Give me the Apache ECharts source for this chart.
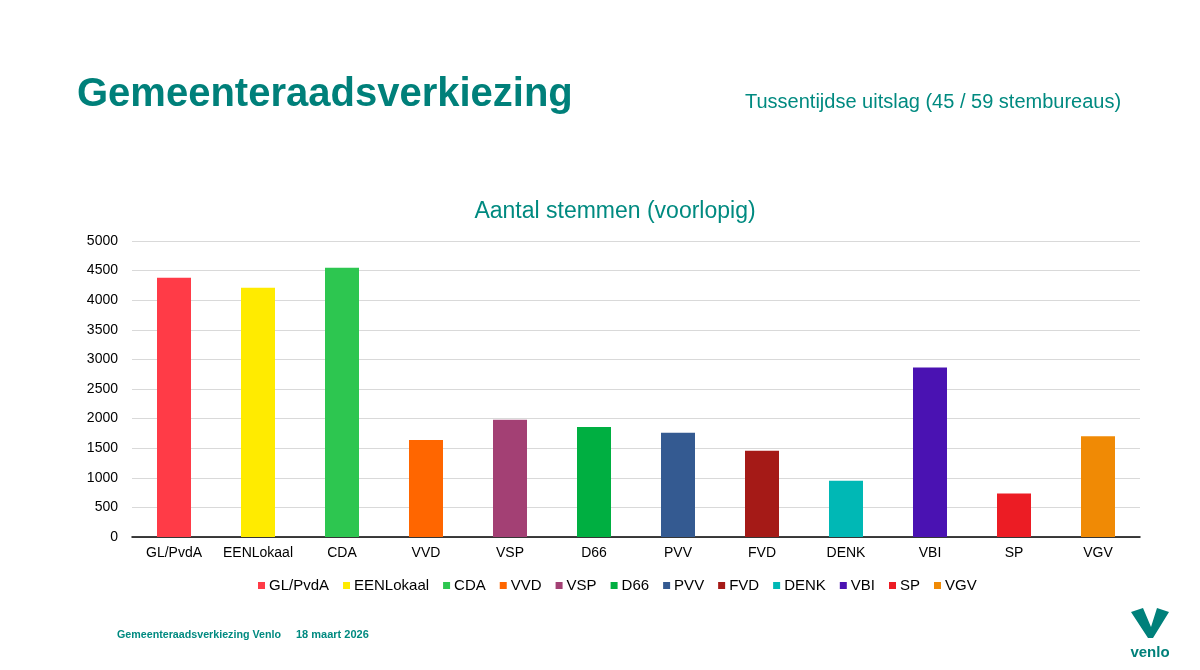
<!DOCTYPE html>
<html>
<head>
<meta charset="utf-8">
<script src="https://cdn.jsdelivr.net/npm/echarts@6/dist/echarts.min.js"></script>
<style>
html,body{margin:0;padding:0;background:#fff;}
#chart{width:1200px;height:670px;}
</style>
</head>
<body>
<div id="chart"></div>
<script>
const categories = ['GL/PvdA','EENLokaal','CDA','VVD','VSP','D66','PVV','FVD','DENK','VBI','SP','VGV'];
const votes = [4380, 4210, 4550, 1640, 1980, 1860, 1760, 1455, 950, 2865, 735, 1700];
const colors = ['#FF3B47','#FFEB00','#2DC650','#FF6600','#A34074','#00AF41','#345A91','#A51A17','#00B8B5','#4A12B2','#EC1C24','#F08A05'];
const yTicks = [0,500,1000,1500,2000,2500,3000,3500,4000,4500,5000];

const teal = '#00807A';
const font = '"Liberation Sans", Arial, sans-serif';

const series = categories.map((name, i) => ({
  name: name,
  type: 'bar',
  stack: 'all',
  barWidth: 34,
  itemStyle: { color: colors[i] },
  data: categories.map((c, j) => j === i ? votes[i] : null)
}));

const chart = echarts.init(document.getElementById('chart'));
chart.setOption({
  backgroundColor: '#fff',
  animation: false,
  textStyle: { fontFamily: font },
  grid: { left: 132, right: 60, top: 241, bottom: 133, containLabel: false },
  legend: {
    data: categories,
    bottom: 72,
    left: 253,
    itemWidth: 7, itemHeight: 7, itemGap: 14,
    icon: 'rect',
    textStyle: { fontSize: 15, color: '#000', fontFamily: font, padding: [0,0,0,-1] }
  },
  xAxis: {
    type: 'category',
    data: categories,
    axisLine: { lineStyle: { color: '#000', width: 1.5 } },
    axisTick: { show: false },
    axisLabel: { interval: 0, fontSize: 14, color: '#000', margin: 9, fontFamily: font }
  },
  yAxis: {
    type: 'value',
    min: yTicks[0], max: yTicks[yTicks.length-1], interval: 500,
    axisLine: { show: false },
    axisTick: { show: false },
    axisLabel: { fontSize: 14, color: '#000', margin: 14, fontFamily: font, formatter: v => String(v) },
    splitLine: { lineStyle: { color: '#D9D9D9', width: 1 } }
  },
  series: series,
  graphic: [
    { type: 'text', style: { text: 'Gemeenteraadsverkiezing', x: 77, y: 95, fill: teal, font: 'bold 40px ' + font, verticalAlign: 'middle', align: 'left' } },
    { type: 'text', style: { text: 'Tussentijdse uitslag (45 / 59 stembureaus)', x: 745, y: 102, fill: '#008A80', font: '20px ' + font, verticalAlign: 'middle', align: 'left' } },
    { type: 'text', style: { text: 'Aantal stemmen (voorlopig)', x: 615, y: 212, fill: '#008A80', font: '23px ' + font, verticalAlign: 'middle', align: 'center' } },
    { type: 'text', style: { text: 'Gemeenteraadsverkiezing Venlo', x: 117, y: 635, fill: '#008A80', font: 'bold 10.7px ' + font, verticalAlign: 'middle', align: 'left' } },
    { type: 'text', style: { text: '18 maart 2026', x: 296, y: 635, fill: '#008A80', font: 'bold 11px ' + font, verticalAlign: 'middle', align: 'left' } },
    { type: 'polygon', shape: { points: [[1131,612],[1143,608],[1151,627],[1157,608],[1169,612],[1153,638],[1148,638]] }, style: { fill: teal } },
    { type: 'text', style: { text: 'venlo', x: 1150, y: 653, fill: teal, font: 'bold 15px ' + font, verticalAlign: 'middle', align: 'center' } }
  ]
});
</script>
</body>
</html>
